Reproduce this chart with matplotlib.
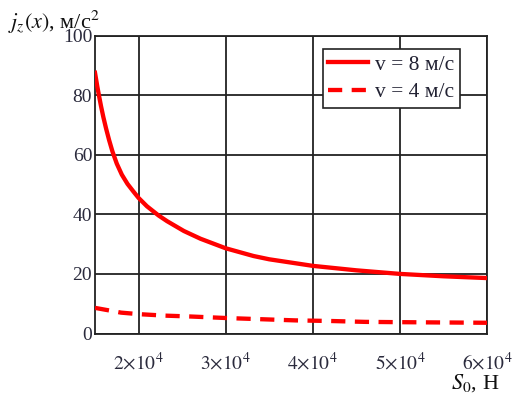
import matplotlib
matplotlib.use("Agg")
import matplotlib.pyplot as plt

# Data
x_v8 = [15000, 15270, 15460, 15690, 15960, 16270, 16620, 17000, 17500, 18080,
        18730, 19420, 20000, 20960, 22300, 23270, 25200, 27110, 30000, 33200,
        35000, 40000, 45000, 50000, 55000, 60000]
y_v8 = [87.5, 82.8, 79.8, 76.3, 72.6, 68.8, 64.9, 61.1, 57.0, 53.3,
        50.2, 47.6, 45.5, 42.7, 39.6, 37.7, 34.4, 31.8, 28.6, 26.0,
        24.9, 22.7, 21.2, 20.0, 19.2, 18.6]

x_v4 = [15000, 16700, 18000, 20000, 23000, 26000, 30000, 34000, 38000, 42000,
        46000, 50000, 55000, 60000]
y_v4 = [8.6, 7.7, 7.0, 6.5, 6.0, 5.7, 5.2, 4.8, 4.4, 4.2, 3.9, 3.8, 3.7, 3.6]

labels = ["v = 8 м/с", "v = 4 м/с"]
xticks = [20000, 30000, 40000, 50000, 60000]
xtick_labels = [r"$2{\times}10^4$", r"$3{\times}10^4$", r"$4{\times}10^4$",
                r"$5{\times}10^4$", r"$6{\times}10^4$"]
yticks = [0, 20, 40, 60, 80, 100]

plt.rcParams["font.family"] = ["Liberation Serif", "DejaVu Serif"]
plt.rcParams["mathtext.fontset"] = "stix"

fig = plt.figure(figsize=(5.16, 3.96), dpi=100)
ax = fig.add_axes([95/516, 1 - 333.5/396, 392/516, 298/396])

ax.plot(x_v8, y_v8, color="#ff0000", lw=3.1, solid_joinstyle="round",
        label=labels[0], zorder=3)
ax.plot(x_v4, y_v4, color="#ff0000", lw=3.1, dashes=(3.3, 2.2),
        label=labels[1], zorder=3)

ax.set_xlim(15000, 60000)
ax.set_ylim(0, 100)
ax.set_xticks(xticks)
ax.set_xticklabels(xtick_labels)
ax.set_yticks(yticks)
ax.grid(True, color="#222222", lw=1.3)
ax.set_axisbelow(True)
for s in ax.spines.values():
    s.set_color("#222222")
    s.set_linewidth(1.3)
ax.tick_params(length=0, labelsize=14, labelcolor="#2a2a3c")
ax.tick_params(axis="x", pad=13)
ax.tick_params(axis="y", pad=2)

leg = ax.legend(loc="upper left", bbox_to_anchor=(0.581, 0.954), fontsize=15.5,
                frameon=True, fancybox=False, framealpha=1, edgecolor="#222222",
                handlelength=1.85, handletextpad=0.35, borderpad=0.25,
                labelspacing=0.35, borderaxespad=0)
leg.get_frame().set_linewidth(1.2)
for t in leg.get_texts():
    t.set_color("#222233")

fig.text(8/516, 1 - 28.5/396, r"$j_z(x)$, м/с$^2$", fontsize=16, ha="left",
         va="baseline", color="#111111")
fig.text(451/516, 1 - 389/396, r"$S_0$, Н", fontsize=16, ha="left",
         va="baseline", color="#111111")

fig.savefig("out.png", dpi=100)
